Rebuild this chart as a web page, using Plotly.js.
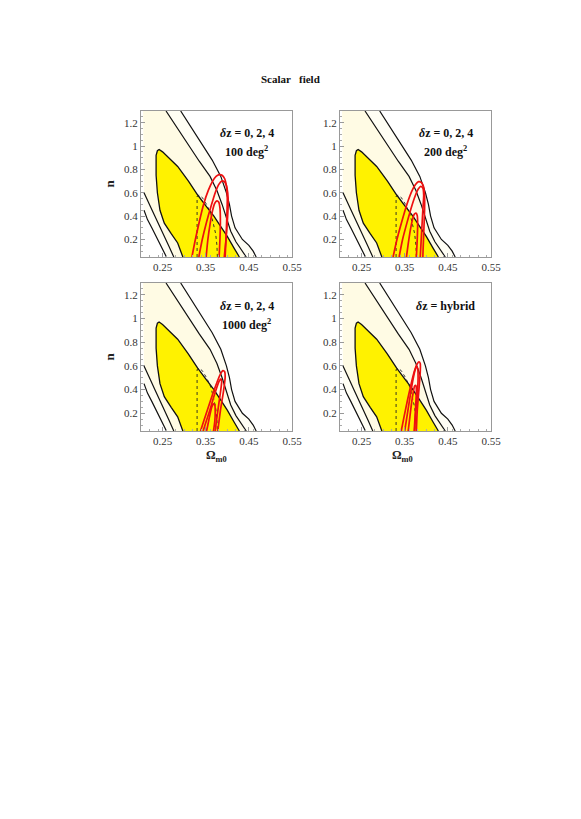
<!DOCTYPE html>
<html>
<head>
<meta charset="utf-8">
<script src="https://cdn.plot.ly/plotly-3.0.1.min.js"></script>
<style>
  body { margin: 0; background: #fff; }
  #chart { width: 581px; height: 819px; }
</style>
</head>
<body>
<div id="chart"></div>
<script>
// contours (Omega_m0 vs n), same in all four panels
const xMin = 0.205;
const yTop = 1.3;

const sig1X = [0.297, 0.285, 0.27, 0.254, 0.244, 0.238, 0.235, 0.234, 0.235, 0.238, 0.242, 0.25, 0.262, 0.285, 0.31, 0.331, 0.35, 0.369, 0.385, 0.4, 0.415, 0.428];
const sig1Y = [0.05, 0.17, 0.25, 0.34, 0.45, 0.6, 0.75, 0.85, 0.92, 0.96, 0.97, 0.95, 0.91, 0.825, 0.7, 0.583, 0.49, 0.4, 0.31, 0.226, 0.13, 0.05];

const sig2RightX = [0.258, 0.285, 0.31, 0.335, 0.36, 0.376, 0.388, 0.398, 0.408, 0.42, 0.434, 0.444];
const sig2RightY = [1.3, 1.15, 1.0, 0.87, 0.74, 0.62, 0.5, 0.38, 0.27, 0.18, 0.1, 0.05];
const sig2LeftX = [0.207, 0.214, 0.222, 0.232, 0.244, 0.254, 0.265, 0.276];
const sig2LeftY = [0.6, 0.55, 0.48, 0.4, 0.3, 0.22, 0.14, 0.05];

const sig3RightX = [0.292, 0.32, 0.345, 0.365, 0.385, 0.398, 0.405, 0.41, 0.418, 0.435, 0.45, 0.46, 0.467];
const sig3RightY = [1.3, 1.14, 1.0, 0.88, 0.74, 0.6, 0.5, 0.4, 0.3, 0.2, 0.15, 0.1, 0.05];
const sig3LeftX = [0.207, 0.215, 0.225, 0.235, 0.245, 0.252, 0.259];
const sig3LeftY = [0.45, 0.37, 0.3, 0.23, 0.15, 0.1, 0.05];

const dotX = [0.33, 0.33, 0.33, 0.335, 0.342, 0.352, 0.362, 0.368, 0.373, 0.376, 0.377];
const dotY = [0.05, 0.3, 0.57, 0.578, 0.56, 0.5, 0.42, 0.33, 0.25, 0.15, 0.05];

// red contours per survey
const red100X = [
  [0.318, 0.326, 0.335, 0.345, 0.356, 0.366, 0.374, 0.381, 0.388, 0.394, 0.398, 0.4, 0.399, 0.397, 0.395],
  [0.334, 0.342, 0.352, 0.362, 0.372, 0.38, 0.387, 0.393, 0.398, 0.401, 0.402, 0.4, 0.397, 0.393],
  [0.351, 0.355, 0.36, 0.366, 0.371, 0.376, 0.38, 0.383, 0.384, 0.383, 0.381]
];
const red100Y = [
  [0.05, 0.2, 0.35, 0.5, 0.62, 0.7, 0.74, 0.755, 0.75, 0.72, 0.66, 0.55, 0.4, 0.2, 0.05],
  [0.05, 0.2, 0.35, 0.48, 0.6, 0.67, 0.7, 0.695, 0.66, 0.6, 0.5, 0.35, 0.2, 0.05],
  [0.05, 0.2, 0.33, 0.45, 0.51, 0.53, 0.52, 0.47, 0.35, 0.2, 0.05]
];
const red200X = [
  [0.323, 0.332, 0.343, 0.355, 0.366, 0.375, 0.382, 0.388, 0.393, 0.396, 0.396, 0.394, 0.392],
  [0.337, 0.345, 0.355, 0.365, 0.374, 0.381, 0.387, 0.392, 0.394, 0.392, 0.389, 0.386],
  [0.354, 0.358, 0.363, 0.368, 0.372, 0.376, 0.379, 0.38, 0.379, 0.377]
];
const red200Y = [
  [0.05, 0.2, 0.35, 0.5, 0.61, 0.67, 0.695, 0.69, 0.66, 0.58, 0.45, 0.25, 0.05],
  [0.05, 0.2, 0.34, 0.47, 0.57, 0.63, 0.655, 0.64, 0.58, 0.45, 0.25, 0.05],
  [0.05, 0.16, 0.28, 0.37, 0.415, 0.425, 0.405, 0.34, 0.2, 0.05]
];
const red1000X = [
  [0.338, 0.346, 0.356, 0.366, 0.376, 0.384, 0.39, 0.394, 0.395, 0.391, 0.384, 0.378],
  [0.344, 0.351, 0.36, 0.368, 0.375, 0.381, 0.385, 0.387, 0.385, 0.38, 0.375, 0.372],
  [0.352, 0.356, 0.36, 0.364, 0.368, 0.371, 0.372, 0.371, 0.368]
];
const red1000Y = [
  [0.05, 0.14, 0.25, 0.36, 0.46, 0.53, 0.56, 0.55, 0.5, 0.38, 0.22, 0.05],
  [0.05, 0.13, 0.23, 0.33, 0.41, 0.47, 0.49, 0.47, 0.4, 0.27, 0.14, 0.05],
  [0.05, 0.12, 0.19, 0.25, 0.28, 0.27, 0.21, 0.13, 0.05]
];
const redHybX = [
  [0.342, 0.349, 0.357, 0.365, 0.372, 0.378, 0.383, 0.386, 0.386, 0.383, 0.379, 0.377],
  [0.35, 0.356, 0.362, 0.368, 0.373, 0.377, 0.38, 0.381, 0.379, 0.375, 0.373],
  [0.358, 0.362, 0.366, 0.37, 0.373, 0.376, 0.377, 0.376, 0.374, 0.372]
];
const redHybY = [
  [0.05, 0.18, 0.32, 0.45, 0.55, 0.61, 0.635, 0.62, 0.55, 0.4, 0.22, 0.05],
  [0.05, 0.19, 0.33, 0.46, 0.55, 0.593, 0.58, 0.5, 0.35, 0.18, 0.05],
  [0.05, 0.17, 0.29, 0.38, 0.43, 0.435, 0.4, 0.3, 0.17, 0.05]
];

const panelLabels = [
  ["<i>δ</i>z = 0, 2, 4", "100 deg<sup>2</sup>"],
  ["<i>δ</i>z = 0, 2, 4", "200 deg<sup>2</sup>"],
  ["<i>δ</i>z = 0, 2, 4", "1000 deg<sup>2</sup>"],
  ["<i>δ</i>z = hybrid", ""]
];

const xTicks = [0.25, 0.35, 0.45, 0.55];
const yTicks = [0.2, 0.4, 0.6, 0.8, 1, 1.2];
const yTickText = ["0.2", "0.4", "0.6", "0.8", "1", "1.2"];

const serif = "Liberation Serif, Times New Roman, serif";
const rev = (a) => a.slice().reverse();

// filled regions (domain corner + contour lines)
const region3X = [xMin, ...sig3RightX, ...rev(sig3LeftX), xMin];
const region3Y = [yTop, ...sig3RightY, ...rev(sig3LeftY), yTop];
const region2X = [xMin, ...sig2RightX, ...rev(sig2LeftX), xMin];
const region2Y = [yTop, ...sig2RightY, ...rev(sig2LeftY), yTop];

const panels = [
  { xa: "x", ya: "y", rx: red100X, ry: red100Y },
  { xa: "x2", ya: "y2", rx: red200X, ry: red200Y },
  { xa: "x3", ya: "y3", rx: red1000X, ry: red1000Y },
  { xa: "x4", ya: "y4", rx: redHybX, ry: redHybY },
];

const traces = [];
panels.forEach((p) => {
  const base = { xaxis: p.xa, yaxis: p.ya, hoverinfo: "skip", mode: "lines" };
  traces.push({ ...base, x: region3X, y: region3Y, fill: "toself", fillcolor: "#fffef4", line: { width: 0 } });
  traces.push({ ...base, x: region2X, y: region2Y, fill: "toself", fillcolor: "#fffbe4", line: { width: 0 } });
  traces.push({ ...base, x: sig1X, y: sig1Y, fill: "toself", fillcolor: "#fff200", line: { width: 0 } });
  traces.push({ ...base, x: sig1X, y: sig1Y, line: { color: "#111", width: 1.3 } });
  [[sig2RightX, sig2RightY], [sig2LeftX, sig2LeftY], [sig3RightX, sig3RightY], [sig3LeftX, sig3LeftY]].forEach(([lx, ly]) => {
    traces.push({ ...base, x: lx, y: ly, line: { color: "#111", width: 1.2 } });
  });
  traces.push({ ...base, x: dotX, y: dotY, line: { color: "#222", width: 0.9, dash: "dot" } });
  p.rx.forEach((xs, i) => {
    traces.push({ ...base, x: xs, y: p.ry[i], line: { color: "#ee1010", width: 1.7, shape: "spline", smoothing: 0.6 } });
  });
});

const H = 819;
const W = 581;
const colDom = [[141 / W, 292 / W], [340 / W, 491 / W]];
const rowDom = [[1 - 257 / H, 1 - 111 / H], [1 - 431 / H, 1 - 283 / H]];

const axisBase = {
  showline: true, mirror: true, linecolor: "#999", linewidth: 1,
  showgrid: false, zeroline: false,
  ticks: "inside", ticklen: 4, tickcolor: "#999",
  tickfont: { family: serif, size: 11, color: "#333" },
  fixedrange: true,
};
const xAxis = (i, col) => ({
  ...axisBase,
  domain: colDom[col],
  anchor: i === 1 ? "y" : "y" + i,
  range: [0.2, 0.55],
  tickvals: xTicks,
  ticktext: xTicks.map(String),
  minor: { ticks: "inside", ticklen: 2, dtick: 0.02, tick0: 0.2, tickcolor: "#aaa" },
});
const yAxis = (i, row, col) => {
  const ax = {
    ...axisBase,
    domain: rowDom[row],
    anchor: i === 1 ? "x" : "x" + i,
    range: [0.05, 1.3],
    tickvals: yTicks,
    ticktext: yTickText,
    minor: { ticks: "inside", ticklen: 2, dtick: 0.05, tick0: 0, tickcolor: "#aaa" },
  };
  if (col === 0) ax.title = { text: "<b>n</b>", font: { family: serif, size: 13, color: "#222" }, standoff: 6 };
  return ax;
};

const annotations = [
  {
    xref: "paper", yref: "paper", x: 290 / W, y: 1 - 79 / H, yanchor: "middle",
    text: "<b>Scalar   field</b>", showarrow: false,
    font: { family: serif, size: 11, color: "#111" },
  },
];
// x-axis label under the bottom row
[216, 415].forEach((cx) => {
  annotations.push({
    xref: "paper", yref: "paper", x: cx / W, y: 1 - 446 / H, yanchor: "top",
    text: "<b>Ω<sub>m0</sub></b>", showarrow: false,
    font: { family: serif, size: 12, color: "#222" },
  });
});
panels.forEach((p, i) => {
  const [l1, l2] = panelLabels[i];
  annotations.push({
    xref: p.xa, yref: p.ya, x: 0.445, y: 1.11, text: "<b>" + l1 + "</b>", showarrow: false,
    font: { family: serif, size: 12, color: "#111" },
  });
  if (l2) {
    annotations.push({
      xref: p.xa, yref: p.ya, x: 0.445, y: 0.95, text: "<b>" + l2 + "</b>", showarrow: false,
      font: { family: serif, size: 12, color: "#111" },
    });
  }
});

const layout = {
  width: W, height: H,
  margin: { l: 0, r: 0, t: 0, b: 0 },
  paper_bgcolor: "#fff", plot_bgcolor: "#fff",
  showlegend: false, hovermode: false,
  xaxis: xAxis(1, 0), yaxis: yAxis(1, 0, 0),
  xaxis2: xAxis(2, 1), yaxis2: yAxis(2, 0, 1),
  xaxis3: xAxis(3, 0), yaxis3: yAxis(3, 1, 0),
  xaxis4: xAxis(4, 1), yaxis4: yAxis(4, 1, 1),
  annotations: annotations,
};

Plotly.newPlot("chart", traces, layout, { staticPlot: true, displayModeBar: false });
</script>
</body>
</html>
